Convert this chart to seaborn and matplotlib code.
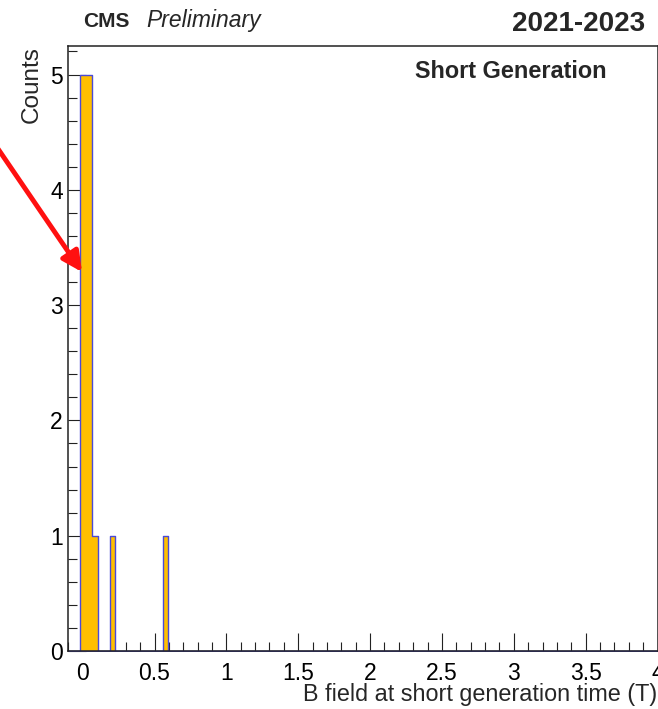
#!/usr/bin/env python3
"""
B field at short generation time - CMS style histogram
"""
import numpy as np
import matplotlib
matplotlib.use("Agg")
import matplotlib.pyplot as plt
from matplotlib.ticker import MultipleLocator
import seaborn as sns

# Histogram binning (100 bins from -0.1 to 4.0 T)
bin_edges = list(np.linspace(-0.1, 4.0, 101))

# Non-empty bins
bin_centres = [0.0, 0.04, 0.08, 0.2, 0.58]
bin_counts = [5, 5, 1, 1, 1]

x_ticks = [0, 0.5, 1, 1.5, 2, 2.5, 3, 3.5, 4]
x_tick_labels = ["0", "0.5", "1", "1.5", "2", "2.5", "3", "3.5", "4"]
y_ticks = [0, 1, 2, 3, 4, 5]

FILL = "#ffbf00"
EDGE = "#4a4ad8"

sns.set_style("ticks")
plt.rcParams['font.family'] = ['Liberation Sans', 'DejaVu Sans']

W, H = 658, 709
fig = plt.figure(figsize=(W / 100, H / 100), dpi=100)
ax = fig.add_axes([68.3 / W, (H - 651) / H, (657.5 - 68.3) / W, (651 - 45.7) / H])

sns.histplot(x=bin_centres, weights=bin_counts, bins=bin_edges, element="step",
             fill=True, color=FILL, edgecolor=EDGE, linewidth=1.0, alpha=1.0, ax=ax)

ax.set_xlim(-0.1, 4.0)
ax.set_ylim(0, 5.25)
ax.set_xticks(x_ticks)
ax.set_xticklabels(x_tick_labels)
ax.set_yticks(y_ticks)
ax.xaxis.set_minor_locator(MultipleLocator(0.1))
ax.yaxis.set_minor_locator(MultipleLocator(0.2))

ax.tick_params(which="both", direction="in", colors="#222222", width=0.8,
               labelsize=16.5, labelcolor="black")
ax.tick_params(which="major", length=13)
ax.tick_params(which="minor", length=6.5)
ax.tick_params(axis="x", pad=8)
ax.tick_params(axis="y", pad=4)
for s in ax.spines.values():
    s.set_linewidth(1.1)
    s.set_color("#222222")

ax.set_ylabel("Counts", fontsize=17.5, loc="top")
ax.yaxis.set_label_coords(-0.043, 1.0)
ax.set_xlabel("B field at short generation time (T)", fontsize=16.8, loc="right")
ax.xaxis.set_label_coords(1.0, -0.053)

# header texts
fig.text(83 / W, (H - 27) / H, "CMS", fontsize=15, fontweight="bold", va="baseline")
fig.text(146 / W, (H - 27) / H, "Preliminary", fontsize=16.5, style="italic", va="baseline")
fig.text(645 / W, (H - 31) / H, "2021-2023", fontsize=20, fontweight="bold",
         ha="right", va="baseline")
ax.text(607 / W, (H - 78) / H, "Short Generation", fontsize=16.9, fontweight="bold",
        ha="right", va="baseline", transform=fig.transFigure)

# red pointer arrow
ax.annotate("", xy=(82, H - 272), xycoords="figure pixels",
            xytext=(-8, H - 140), textcoords="figure pixels",
            arrowprops=dict(arrowstyle="-|>", color="#ff1010", lw=3.5,
                            mutation_scale=30, shrinkA=0, shrinkB=0),
            annotation_clip=False)

plt.savefig("out.png", dpi=100)
